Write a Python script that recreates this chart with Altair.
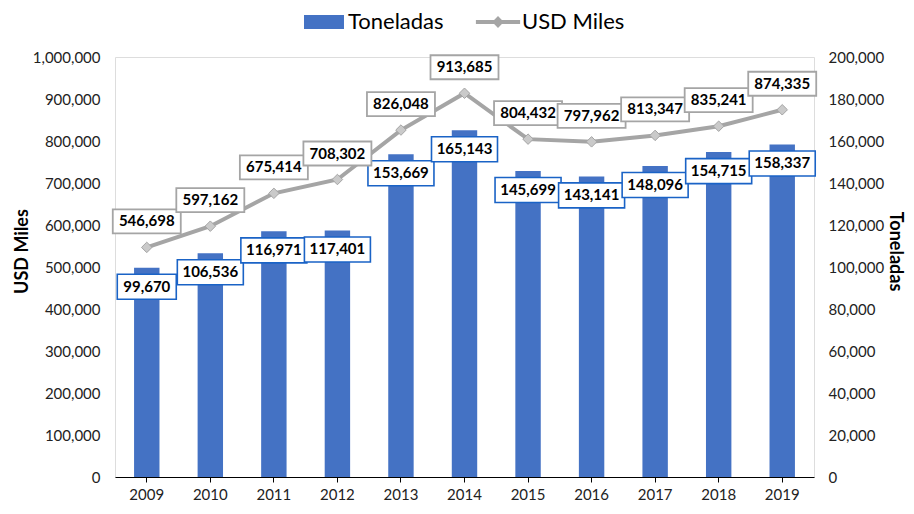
import altair as alt
import pandas as pd

# ---- data ----
years = ["2009", "2010", "2011", "2012", "2013", "2014", "2015", "2016", "2017", "2018", "2019"]
toneladas = [99670, 106536, 116971, 117401, 153669, 165143, 145699, 143141, 148096, 154715, 158337]
usd_miles = [546698, 597162, 675414, 708302, 826048, 913685, 804432, 797962, 813347, 835241, 874335]
series = ["Toneladas", "USD Miles"]
ton_ticks = list(range(0, 200001, 20000))
usd_ticks = list(range(0, 1000001, 100000))

df = pd.DataFrame({"year": years, "ton": toneladas, "usd": usd_miles})
legend_df = pd.DataFrame({"serie": series})

FONT = "Lato"
BLUE = "#4472C4"
BOX_BLUE = "#1A63C6"
GRAY = "#A5A5A5"
MARK_GRAY = "#CACACA"
NUM = ",.0f"

# label box shapes (unit = sqrt(size)/2 px)
BAR_BOX7 = "M-1,0.197 L1,0.197 L1,0.955 L-1,0.955 Z"
BAR_BOX6 = "M-0.894,0.197 L0.894,0.197 L0.894,0.955 L-0.894,0.955 Z"
LINE_BOX = "M-1,-1.118 L1,-1.118 L1,-0.412 L-1,-0.412 Z"
LEG_RECT = "M-1.538,-0.538 L1.538,-0.538 L1.538,0.538 L-1.538,0.538 Z"
LEG_LINE = ("M-1.7,-0.154 L-0.3,-0.154 L0,-0.46 L0.3,-0.154 L1.7,-0.154 L1.7,0.154 "
            "L0.3,0.154 L0,0.46 L-0.3,0.154 L-1.7,0.154 Z")

x = alt.X(
    "year:O",
    title=None,
    scale=alt.Scale(paddingInner=0.6, paddingOuter=0.3),
    axis=alt.Axis(
        labelAngle=0, labelFontSize=15, labelFont=FONT, labelColor="#222222",
        domain=True, domainColor="#000000", domainWidth=1,
        ticks=True, tickColor="#000000", tickSize=5, tickWidth=1,
        labelPadding=5, grid=False,
    ),
)

y_ton_axis = alt.Axis(
    orient="right", values=ton_ticks, format=NUM, title="Toneladas",
    titleFontSize=18, titleFont=FONT, titleFontWeight="bold", titleColor="#000000",
    titleAngle=90, titleX=80, titleY=194, titleBaseline="middle", titleAlign="center",
    labelFontSize=15, labelFont=FONT, labelColor="#222222", labelPadding=14,
    domain=False, ticks=False, grid=False,
)
y_ton = alt.Y("ton:Q", scale=alt.Scale(domain=[0, 200000], nice=False), axis=y_ton_axis)

y_usd = alt.Y(
    "usd:Q",
    scale=alt.Scale(domain=[0, 1000000], nice=False),
    axis=alt.Axis(
        orient="left", values=usd_ticks, format=NUM, title="USD Miles",
        titleFontSize=18, titleFont=FONT, titleFontWeight="bold", titleColor="#000000",
        titleAngle=270, titleX=-93, titleY=194, titleBaseline="middle", titleAlign="center",
        labelFontSize=15, labelFont=FONT, labelColor="#222222", labelPadding=15,
        domain=False, ticks=False, grid=False,
    ),
)

base = alt.Chart(df)

bars = base.mark_bar(color=BLUE).encode(x=x, y=y_ton)

bar_box_common = dict(filled=True, fill="white", stroke=BOX_BLUE, strokeWidth=1.6,
                      opacity=1, fillOpacity=1, size=4356)
bar_box7 = (base.transform_calculate(lab="format(datum.ton, ',')")
            .transform_filter("length(datum.lab) == 7")
            .mark_point(shape=BAR_BOX7, **bar_box_common).encode(x=x, y=y_ton))
bar_box6 = (base.transform_calculate(lab="format(datum.ton, ',')")
            .transform_filter("length(datum.lab) == 6")
            .mark_point(shape=BAR_BOX6, **bar_box_common).encode(x=x, y=y_ton))
bar_text = base.mark_text(dy=19, fontSize=15, fontWeight="bold", font=FONT,
                          color="#000000", baseline="middle").encode(
    x=x, y=y_ton, text=alt.Text("ton:Q", format=NUM))

bar_group = alt.layer(bars, bar_box7, bar_box6, bar_text)

line = base.mark_line(color=GRAY, strokeWidth=4).encode(x=x, y=y_usd)
points = base.mark_point(shape="diamond", filled=True, size=110, fill=MARK_GRAY,
                         stroke=GRAY, strokeWidth=1, opacity=1).encode(x=x, y=y_usd)
line_box = base.mark_point(shape=LINE_BOX, filled=True, fill="white", stroke=GRAY,
                           strokeWidth=1.8, opacity=1, fillOpacity=1, size=4624).encode(x=x, y=y_usd)
line_text = base.mark_text(dy=-26, fontSize=15, fontWeight="bold", font=FONT,
                           color="#000000", baseline="middle").encode(
    x=x, y=y_usd, text=alt.Text("usd:Q", format=NUM))

leg = alt.Legend(
    orient="none", legendX=196, legendY=-48, direction="horizontal", title=None,
    labelFontSize=22, labelFont=FONT, labelColor="#000000", symbolSize=676,
    symbolStrokeWidth=0, columnPadding=31, labelOffset=11,
)
legend_layer = (
    alt.Chart(legend_df)
    .transform_filter("false")
    .mark_point(filled=True, opacity=1)
    .encode(
        x=alt.value(0), y=alt.value(0),
        color=alt.Color("serie:N", scale=alt.Scale(domain=series, range=[BLUE, GRAY]), legend=leg),
        shape=alt.Shape("serie:N", scale=alt.Scale(domain=series, range=[LEG_RECT, LEG_LINE]), legend=leg),
    )
)

line_group = alt.layer(line, points, line_box, line_text, legend_layer)

chart = (
    alt.layer(bar_group, line_group)
    .resolve_scale(y="independent")
    .properties(
        width=699, height=420,
        padding={"left": 5, "top": 1, "right": 3, "bottom": 3},
        autosize=alt.AutoSizeParams(type="pad"),
    )
    .configure_view(stroke=None, strokeWidth=0)
    .configure(font=FONT)
)

chart.save("out.html", embed_options={"renderer": "svg", "actions": False})
